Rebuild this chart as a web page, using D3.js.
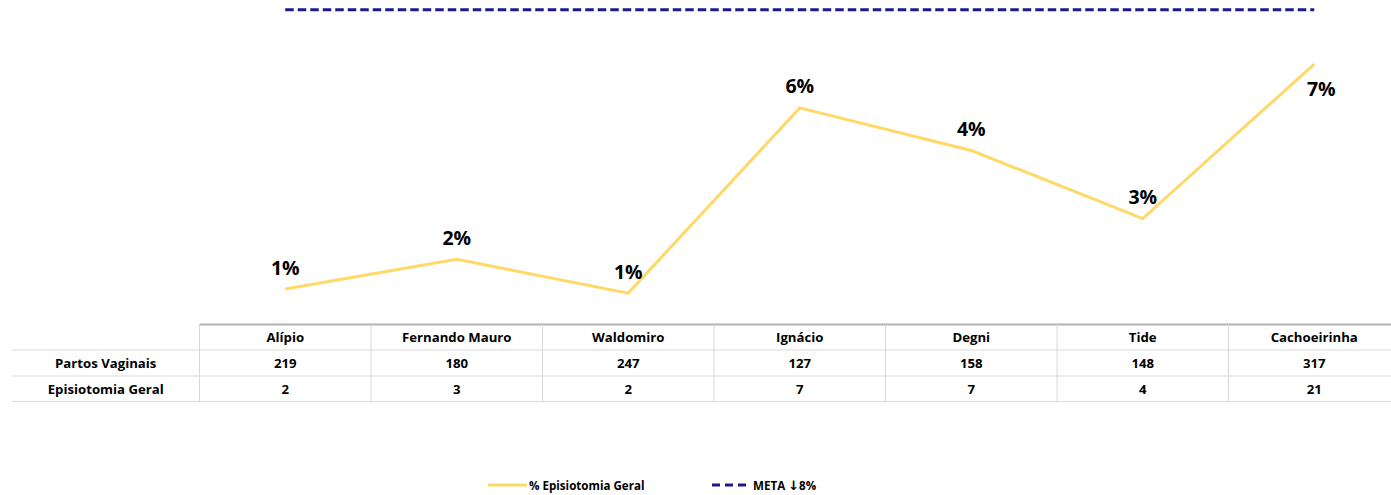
<!DOCTYPE html>
<html>
<head>
<meta charset="utf-8">
<script src="https://cdn.jsdelivr.net/npm/d3@7"></script>
<style>
  html, body { margin: 0; padding: 0; background: #fff; }
  svg { display: block; font-family: "Open Sans", Lato, sans-serif; font-weight: 700; }
</style>
</head>
<body>
<svg id="chart" width="1391" height="495"></svg>
<script>
// Units and counts
const units = ["Alípio", "Fernando Mauro", "Waldomiro", "Ignácio", "Degni", "Tide", "Cachoeirinha"];
const partosVaginais = [219, 180, 247, 127, 158, 148, 317];
const episiotomiaGeral = [2, 3, 2, 7, 7, 4, 21];
const meta = 0.08;
const rowLabels = ["Partos Vaginais", "Episiotomia Geral"];
const seriesName = "% Episiotomia Geral";
const metaParts = ["META ", "\u2193", "8%"];

// Episiotomy rate per unit
const rate = episiotomiaGeral.map((e, i) => e / partosVaginais[i]);

const svg = d3.select("#chart");
const lineColor = "#ffd966";
const metaColor = "#1d1a8a";
const gridColor = "#d9d9d9";

const plotLeft = 199.5, colW = 171.5;
const x = d3.scaleBand().domain(units).range([plotLeft, plotLeft + colW * units.length]);
const cx = d => x(d) + x.bandwidth() / 2;
const y = d3.scaleLinear().domain([0, 0.0825]).range([325, 0]);

// Target line
svg.append("line")
  .attr("x1", cx(units[0])).attr("x2", cx(units[units.length - 1]))
  .attr("y1", y(meta)).attr("y2", y(meta))
  .attr("stroke", metaColor).attr("stroke-width", 3)
  .attr("stroke-dasharray", "8.5,4");

// Rate line
const line = d3.line().x((d, i) => cx(units[i])).y(d => y(d));
svg.append("path")
  .datum(rate)
  .attr("d", line)
  .attr("fill", "none")
  .attr("stroke", lineColor)
  .attr("stroke-width", 3)
  .attr("stroke-linejoin", "miter");

// Value labels (the last one sits below its point)
const fmt = d3.format(".0%");
svg.append("g").selectAll("text")
  .data(rate)
  .join("text")
  .attr("x", (d, i) => cx(units[i]) + (i === rate.length - 1 ? 7 : 0))
  .attr("y", (d, i) => y(d) + (i === rate.length - 1 ? 24 : -22))
  .attr("text-anchor", "middle")
  .attr("dominant-baseline", "central")
  .attr("font-size", 19.5)
  .attr("fill", "#000")
  .text(d => fmt(d));

// Data table
const rowTop = 324.5, rowH = [25.5, 26, 25.5];
const rowY = [rowTop, rowTop + rowH[0], rowTop + rowH[0] + rowH[1], rowTop + rowH[0] + rowH[1] + rowH[2]];
const tableRight = plotLeft + colW * units.length;
const tableLeft = 12;
const grid = svg.append("g");

// horizontal rules
grid.append("line")
  .attr("x1", plotLeft).attr("x2", tableRight)
  .attr("y1", rowY[0]).attr("y2", rowY[0])
  .attr("stroke", "#b3b3b3").attr("stroke-width", 2);
[1, 2, 3].forEach(r => {
  grid.append("line")
    .attr("x1", tableLeft).attr("x2", tableRight)
    .attr("y1", rowY[r]).attr("y2", rowY[r])
    .attr("stroke", gridColor).attr("stroke-width", 1);
});
// vertical rules
d3.range(units.length + 1).forEach(i => {
  const xv = plotLeft + colW * i;
  grid.append("line")
    .attr("x1", xv).attr("x2", xv)
    .attr("y1", rowY[0]).attr("y2", rowY[3])
    .attr("stroke", gridColor).attr("stroke-width", 1);
});

const rowMid = r => (rowY[r] + rowY[r + 1]) / 2;
const tableFont = 13.2;

// header
svg.append("g").selectAll("text")
  .data(units)
  .join("text")
  .attr("x", d => cx(d))
  .attr("y", rowMid(0))
  .attr("text-anchor", "middle")
  .attr("dominant-baseline", "central")
  .attr("font-size", tableFont)
  .text(d => d);

// row labels
svg.append("g").selectAll("text")
  .data(rowLabels)
  .join("text")
  .attr("x", (tableLeft + plotLeft) / 2)
  .attr("y", (d, i) => rowMid(i + 1))
  .attr("text-anchor", "middle")
  .attr("dominant-baseline", "central")
  .attr("font-size", tableFont)
  .text(d => d);

// row values
[partosVaginais, episiotomiaGeral].forEach((vals, r) => {
  svg.append("g").selectAll("text")
    .data(vals)
    .join("text")
    .attr("x", (d, i) => cx(units[i]))
    .attr("y", rowMid(r + 1))
    .attr("text-anchor", "middle")
    .attr("dominant-baseline", "central")
    .attr("font-size", tableFont)
    .text(d => d);
});

// Legend
const legend = svg.append("g").attr("transform", "translate(0,485)");
legend.append("line")
  .attr("x1", 488).attr("x2", 527).attr("y1", 0).attr("y2", 0)
  .attr("stroke", lineColor).attr("stroke-width", 3);
legend.append("text")
  .attr("x", 529).attr("y", 0)
  .attr("dominant-baseline", "central")
  .attr("font-size", 11.6)
  .text(seriesName);
legend.append("line")
  .attr("x1", 712).attr("x2", 747).attr("y1", 0).attr("y2", 0)
  .attr("stroke", metaColor).attr("stroke-width", 3)
  .attr("stroke-dasharray", "8,5");
const metaText = legend.append("text")
  .attr("x", 753).attr("y", 0)
  .attr("dominant-baseline", "central")
  .attr("font-size", 11.6);
metaText.append("tspan").text(metaParts[0]);
metaText.append("tspan")
  .attr("font-family", "DejaVu Sans")
  .attr("font-size", 13)
  .text(metaParts[1]);
metaText.append("tspan").text(metaParts[2]);
</script>
</body>
</html>
